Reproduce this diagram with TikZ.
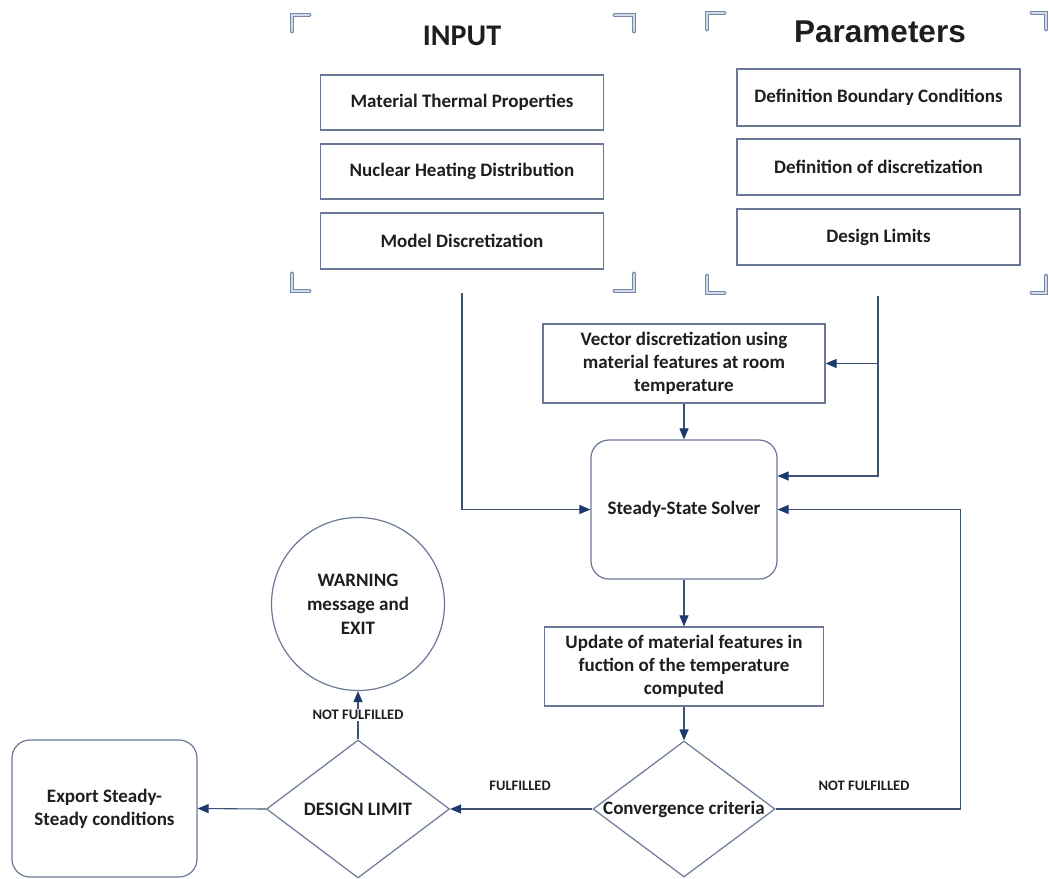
\documentclass[tikz,border=0pt]{standalone}
\usepackage{fontspec}
\setmainfont{Carlito}
\newfontfamily\arialfont{Liberation Sans}
\usetikzlibrary{arrows.meta,shapes.geometric}
\definecolor{boxline}{HTML}{6A7896}
\definecolor{conn}{HTML}{3F5275}
\definecolor{tipc}{HTML}{1C3A6E}
\definecolor{brk}{HTML}{7387A8}
\definecolor{brkin}{HTML}{D2DAE7}
\definecolor{txt}{HTML}{1E1E1E}
\begin{document}
\begin{tikzpicture}[x=1pt,y=-1pt,
  box/.style={draw=boxline,line width=1.2pt,fill=white,text=txt,
    font=\fontsize{19}{23}\selectfont\bfseries,align=center,inner sep=0pt},
  rbox/.style={box,rounded corners=18pt},
  dia/.style={draw=boxline,line width=1.2pt,fill=white,shape=diamond,inner sep=0pt},
  lbl/.style={text=txt,font=\fontsize{19}{23}\selectfont\bfseries,align=center},
  small/.style={text=txt,font=\fontsize{14.5}{16}\selectfont\bfseries},
  arr/.style={draw=conn,line width=1.1pt,-{Triangle[length=11pt,width=9pt,fill=tipc,color=tipc]}},
  brkt/.style={draw=brk,line width=1.2pt,double=brkin,double distance=2.4pt,line cap=round}
]
\useasboundingbox (0,0) rectangle (1049,878);

% brackets INPUT
\draw[brkt] (309,15) -- (292,15) -- (292,31);
\draw[brkt] (615,15) -- (634,15) -- (634,31);
\draw[brkt] (292,274) -- (292,291) -- (309,291);
\draw[brkt] (634,274) -- (634,291) -- (615,291);
% brackets Parameters
\draw[brkt] (724,13) -- (707,13) -- (707,29);
\draw[brkt] (1032,13) -- (1046,13) -- (1046,29);
\draw[brkt] (707,276) -- (707,293) -- (724,293);
\draw[brkt] (1046,276) -- (1046,293) -- (1032,293);

% titles
\node[text=txt,font=\fontsize{30}{33}\selectfont\bfseries] (tin) at (462,36) {INPUT};
\node[text=txt,font=\arialfont\fontsize{31.5}{34}\selectfont\bfseries] (tpar) at (880,32) {Parameters};

% input boxes
\node[box,minimum width=283pt,minimum height=55pt] (mtp) at (462,102.5) {Material Thermal Properties};
\node[box,minimum width=283pt,minimum height=55pt] (nhd) at (462,171.5) {Nuclear Heating Distribution};
\node[box,minimum width=283pt,minimum height=56pt] (mdi) at (462,241) {Model Discretization};

% parameter boxes
\node[box,minimum width=283pt,minimum height=57pt] (dbc) at (878.5,97.5) {Definition Boundary Conditions};
\node[box,minimum width=283pt,minimum height=56pt] (ddi) at (878.5,167) {Definition of discretization};
\node[box,minimum width=283pt,minimum height=56pt] (dli) at (878.5,237) {Design Limits};

% main flow
\node[box,minimum width=282pt,minimum height=79pt] (vec) at (684,363.5) {Vector discretization using\\material features at room\\temperature};
\node[rbox,minimum width=186pt,minimum height=139pt] (sol) at (684,509.5) {Steady-State Solver};
\node[box,minimum width=279pt,minimum height=79pt] (upd) at (684,666.5) {Update of material features in\\fuction of the temperature\\computed};
\node[dia,minimum width=182pt,minimum height=136pt] (conv) at (684,809) {};
\node[lbl] (convt) at (684,809) {Convergence criteria};
\node[dia,minimum width=183pt,minimum height=138pt] (dl) at (358,809) {};
\node[lbl] (dlt) at (358,809) {DESIGN LIMIT};
\node[draw=boxline,line width=1.2pt,fill=white,circle,minimum size=173pt,inner sep=0pt,
  text=txt,font=\fontsize{19}{24}\selectfont\bfseries,align=center] (warn) at (358,604) {WARNING\\message and\\EXIT};
\node[rbox,minimum width=185pt,minimum height=137pt] (exp) at (104.5,808.5) {Export Steady-\\Steady conditions};

% free ends of group connectors
\coordinate (inEnd) at (462,293);
\coordinate (parEnd) at (878,296);

% connectors
\draw[arr] (inEnd) |- (sol.west);
\draw[arr] (parEnd) |- ([yshift=33.5pt]sol.east);
\draw[arr] (parEnd |- vec.east) -- (vec.east);
\draw[arr] (vec.south) -- (sol.north);
\draw[arr] (sol.south) -- (upd.north);
\draw[arr] (upd.south) -- (conv.north);
\draw[arr] (conv.east) -- ++(185,0) |- (sol.east);
\draw[arr] (conv.west) -- (dl.east);
\draw[arr] (dl.west) -- (exp.east);
\draw[arr] (dl.north) -- (warn.south);

% labels
\node[small] (nf1) at (864,786) {NOT FULFILLED};
\node[small] (ff) at (520,786) {FULFILLED};
\node[small,fill=white,inner sep=1pt] (nf2) at (358,715) {NOT FULFILLED};
\end{tikzpicture}
\end{document}
